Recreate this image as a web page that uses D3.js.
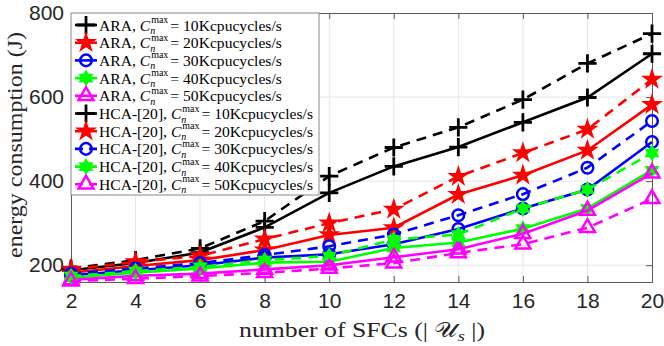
<!DOCTYPE html>
<html>
<head>
<meta charset="utf-8">
<script src="https://cdn.jsdelivr.net/npm/d3@7"></script>
<style>
  body { margin: 0; background: #fff; }
  svg { display: block; }
  text { white-space: pre; }
</style>
</head>
<body>
<svg id="chart" width="664" height="346"></svg>
<script>
// number of SFCs on the x axis
var sfcCounts = [2, 4, 6, 8, 10, 12, 14, 16, 18, 20];
var yTicks = [200, 400, 600, 800];
var capacities = ['10', '20', '30', '40', '50'];

// ARA (solid lines)
var ara10 = [188, 205, 230, 290, 372, 435, 481, 540, 599, 703];
var ara20 = [182, 198, 212, 236, 272, 289, 368, 414, 473, 582];
var ara30 = [176, 188, 200, 218, 226, 250, 286, 335, 380, 493];
var ara40 = [170, 182, 192, 206, 208, 241, 254, 287, 335, 426];
var ara50 = [165, 175, 180, 190, 200, 219, 238, 275, 330, 419];

// HCA-[20] (dashed lines)
var hca10 = [192, 212, 240, 305, 412, 480, 528, 594, 680, 751];
var hca20 = [190, 208, 222, 262, 300, 333, 411, 467, 523, 642];
var hca30 = [180, 192, 205, 224, 245, 273, 319, 369, 432, 543];
var hca40 = [174, 186, 196, 212, 222, 261, 273, 335, 380, 467];
var hca50 = [162, 168, 174, 182, 192, 205, 229, 250, 289, 358];

var araSeries = [ara10, ara20, ara30, ara40, ara50];
var hcaSeries = [hca10, hca20, hca30, hca40, hca50];

var serif = '"Liberation Serif", "DejaVu Serif", serif';
var sans = '"Liberation Sans", Arial, sans-serif';

var symbolHexagram = {
  draw: function (ctx, size) {
    var r = Math.sqrt(size) * 0.5, ri = r / Math.sqrt(3);
    for (var i = 0; i < 12; i++) {
      var a = -Math.PI / 2 + i * Math.PI / 6, rr = i % 2 ? ri : r;
      if (i === 0) ctx.moveTo(rr * Math.cos(a), rr * Math.sin(a));
      else ctx.lineTo(rr * Math.cos(a), rr * Math.sin(a));
    }
    ctx.closePath();
  }
};
var symbolPlusLine = d3.symbolPlus || {
  draw: function (ctx, size) {
    var r = Math.sqrt(size) * 0.6;
    ctx.moveTo(-r, 0); ctx.lineTo(r, 0); ctx.moveTo(0, -r); ctx.lineTo(0, r);
  }
};
var symbolTriangleLine = d3.symbolTriangle2 || d3.symbolTriangle;

var styles = [
  { color: '#000000', type: symbolPlusLine, size: 110, fill: 'none', sw: 2.8 },
  { color: '#ff0000', type: d3.symbolStar, size: 95, fill: '#ff0000', sw: 1.5 },
  { color: '#0000ff', type: d3.symbolCircle, size: 105, fill: 'none', sw: 2.5 },
  { color: '#00ff00', type: symbolHexagram, size: 200, fill: '#00ff00', sw: 1.5 },
  { color: '#ff00ff', type: symbolTriangleLine, size: 160, fill: 'none', sw: 2.5 }
];

var series = [];
araSeries.forEach(function (vals, i) {
  series.push({ values: vals, style: styles[i], dashed: false, method: 'ARA,\u00a0', cap: capacities[i] });
});
hcaSeries.forEach(function (vals, i) {
  series.push({ values: vals, style: styles[i], dashed: true, method: 'HCA-[20],\u00a0', cap: capacities[i] });
});

var x = d3.scaleLinear().domain([2, 20]).range([71, 652]);
var y = d3.scaleLinear().domain([160, 800]).range([282, 13]);

var svg = d3.select('#chart');
var axisColor = '#5a5a5a';

// grid
svg.append('g').selectAll('line').data(sfcCounts.slice(1, -1)).enter().append('line')
  .attr('x1', function (d) { return x(d); }).attr('x2', function (d) { return x(d); })
  .attr('y1', y.range()[0]).attr('y2', y.range()[1])
  .attr('stroke', '#e6e6e6').attr('stroke-width', 1);
svg.append('g').selectAll('line').data(yTicks.slice(0, -1)).enter().append('line')
  .attr('y1', function (d) { return y(d); }).attr('y2', function (d) { return y(d); })
  .attr('x1', x.range()[0]).attr('x2', x.range()[1])
  .attr('stroke', '#e6e6e6').attr('stroke-width', 1);

// axes, ticks pointing inward
function styleAxis(g) {
  g.selectAll('path, line').attr('stroke', axisColor);
  g.selectAll('text').attr('fill', '#262626').attr('font-family', sans).attr('font-size', 21);
}
svg.append('g').attr('transform', 'translate(0,' + y(160) + ')')
  .call(d3.axisBottom(x).tickValues(sfcCounts).tickSizeInner(-6).tickSizeOuter(0).tickPadding(11))
  .call(styleAxis);
svg.append('g').attr('transform', 'translate(0,' + y(800) + ')')
  .call(d3.axisTop(x).tickValues(sfcCounts).tickSizeInner(-6).tickSizeOuter(0).tickFormat(''))
  .call(styleAxis);
svg.append('g').attr('transform', 'translate(' + x(2) + ',0)')
  .call(d3.axisLeft(y).tickValues(yTicks).tickSizeInner(-6).tickSizeOuter(0).tickPadding(7))
  .call(styleAxis);
svg.append('g').attr('transform', 'translate(' + x(20) + ',0)')
  .call(d3.axisRight(y).tickValues(yTicks).tickSizeInner(-6).tickSizeOuter(0).tickFormat(''))
  .call(styleAxis);

// series
var line = d3.line()
  .x(function (d, i) { return x(sfcCounts[i]); })
  .y(function (d) { return y(d); });

series.forEach(function (s) {
  var g = svg.append('g');
  g.append('path')
    .attr('d', line(s.values))
    .attr('fill', 'none')
    .attr('stroke', s.style.color)
    .attr('stroke-width', 2.6)
    .attr('stroke-dasharray', s.dashed ? '10,7' : null);
  g.selectAll('path.mk').data(s.values).enter().append('path')
    .attr('class', 'mk')
    .attr('transform', function (d, i) { return 'translate(' + x(sfcCounts[i]) + ',' + y(d) + ')'; })
    .attr('d', d3.symbol().type(s.style.type).size(s.style.size))
    .attr('fill', s.style.fill)
    .attr('stroke', s.style.color)
    .attr('stroke-width', s.style.sw);
});

// measuring helper
var meas = svg.append('text').attr('visibility', 'hidden');
function textWidth(str, size, italic) {
  meas.attr('font-family', serif).attr('font-size', size)
    .attr('font-style', italic ? 'italic' : 'normal').text(str);
  return meas.node().getComputedTextLength();
}

// legend
var legend = svg.append('g');
legend.append('rect')
  .attr('x', 71).attr('y', 13).attr('width', 248).attr('height', 182)
  .attr('fill', '#fff').attr('stroke', '#8a8a8a').attr('stroke-width', 1);

series.forEach(function (s, i) {
  var cy = 25 + i * 17.7;
  var row = legend.append('g');
  row.append('line')
    .attr('x1', 75).attr('x2', 97).attr('y1', cy).attr('y2', cy)
    .attr('stroke', s.style.color).attr('stroke-width', 2.6)
    .attr('stroke-dasharray', s.dashed ? '8,6' : null);
  row.append('path')
    .attr('transform', 'translate(86,' + cy + ')')
    .attr('d', d3.symbol().type(s.style.type).size(s.style.size))
    .attr('fill', s.style.fill).attr('stroke', s.style.color).attr('stroke-width', s.style.sw);

  var fs = 15.6, ss = 10;
  var x0 = 99, base = cy + 5.5;
  var w1 = textWidth(s.method, fs, false);
  var wC = textWidth('C', fs, true);
  var wMax = textWidth('max', ss, false);
  var xRest = x0 + w1 + wC + wMax + 3;
  row.append('text').attr('font-family', serif).attr('font-size', fs)
    .attr('x', x0).attr('y', base).text(s.method);
  row.append('text').attr('font-family', serif).attr('font-size', fs).attr('font-style', 'italic')
    .attr('x', x0 + w1).attr('y', base).text('C');
  row.append('text').attr('font-family', serif).attr('font-size', ss)
    .attr('x', x0 + w1 + wC + 1).attr('y', base - 7.5).text('max');
  row.append('text').attr('font-family', serif).attr('font-size', ss).attr('font-style', 'italic')
    .attr('x', x0 + w1 + wC).attr('y', base + 3.5).text('n');
  row.append('text').attr('font-family', serif).attr('font-size', fs)
    .attr('x', xRest).attr('y', base).text('= ' + s.cap + 'Kcpucycles/s');
});

// axis titles
svg.append('text')
  .attr('transform', 'translate(22,145) rotate(-90)')
  .attr('text-anchor', 'middle')
  .attr('font-family', serif).attr('font-size', 21)
  .attr('textLength', 226).attr('lengthAdjust', 'spacingAndGlyphs')
  .attr('fill', '#262626')
  .text('energy consumption (J)');

var xlParts = [
  { s: 'number of SFCs (|\u00a0', it: false, size: 21, dy: 0 },
  { s: '\uD835\uDCB0', it: false, size: 21, dy: 0 },
  { s: 's', it: true, size: 15, dy: 4 },
  { s: '\u00a0|)', it: false, size: 21, dy: 0 }
];
var totalW = 0;
xlParts.forEach(function (p) { p.w = textWidth(p.s, p.size, p.it); totalW += p.w; });
// stretch horizontally to the reference's wider TeX lettering
var stretch = 246 / totalW;
var xl = svg.append('g')
  .attr('transform', 'translate(362,337) scale(' + stretch + ',1)')
  .append('text')
  .attr('font-family', serif).attr('font-size', 21).attr('fill', '#262626');
var cx = -totalW / 2;
xlParts.forEach(function (p) {
  xl.append('tspan').attr('x', cx).attr('y', p.dy)
    .attr('font-size', p.size).attr('font-style', p.it ? 'italic' : 'normal').text(p.s);
  cx += p.w;
});
meas.remove();
</script>
</body>
</html>
